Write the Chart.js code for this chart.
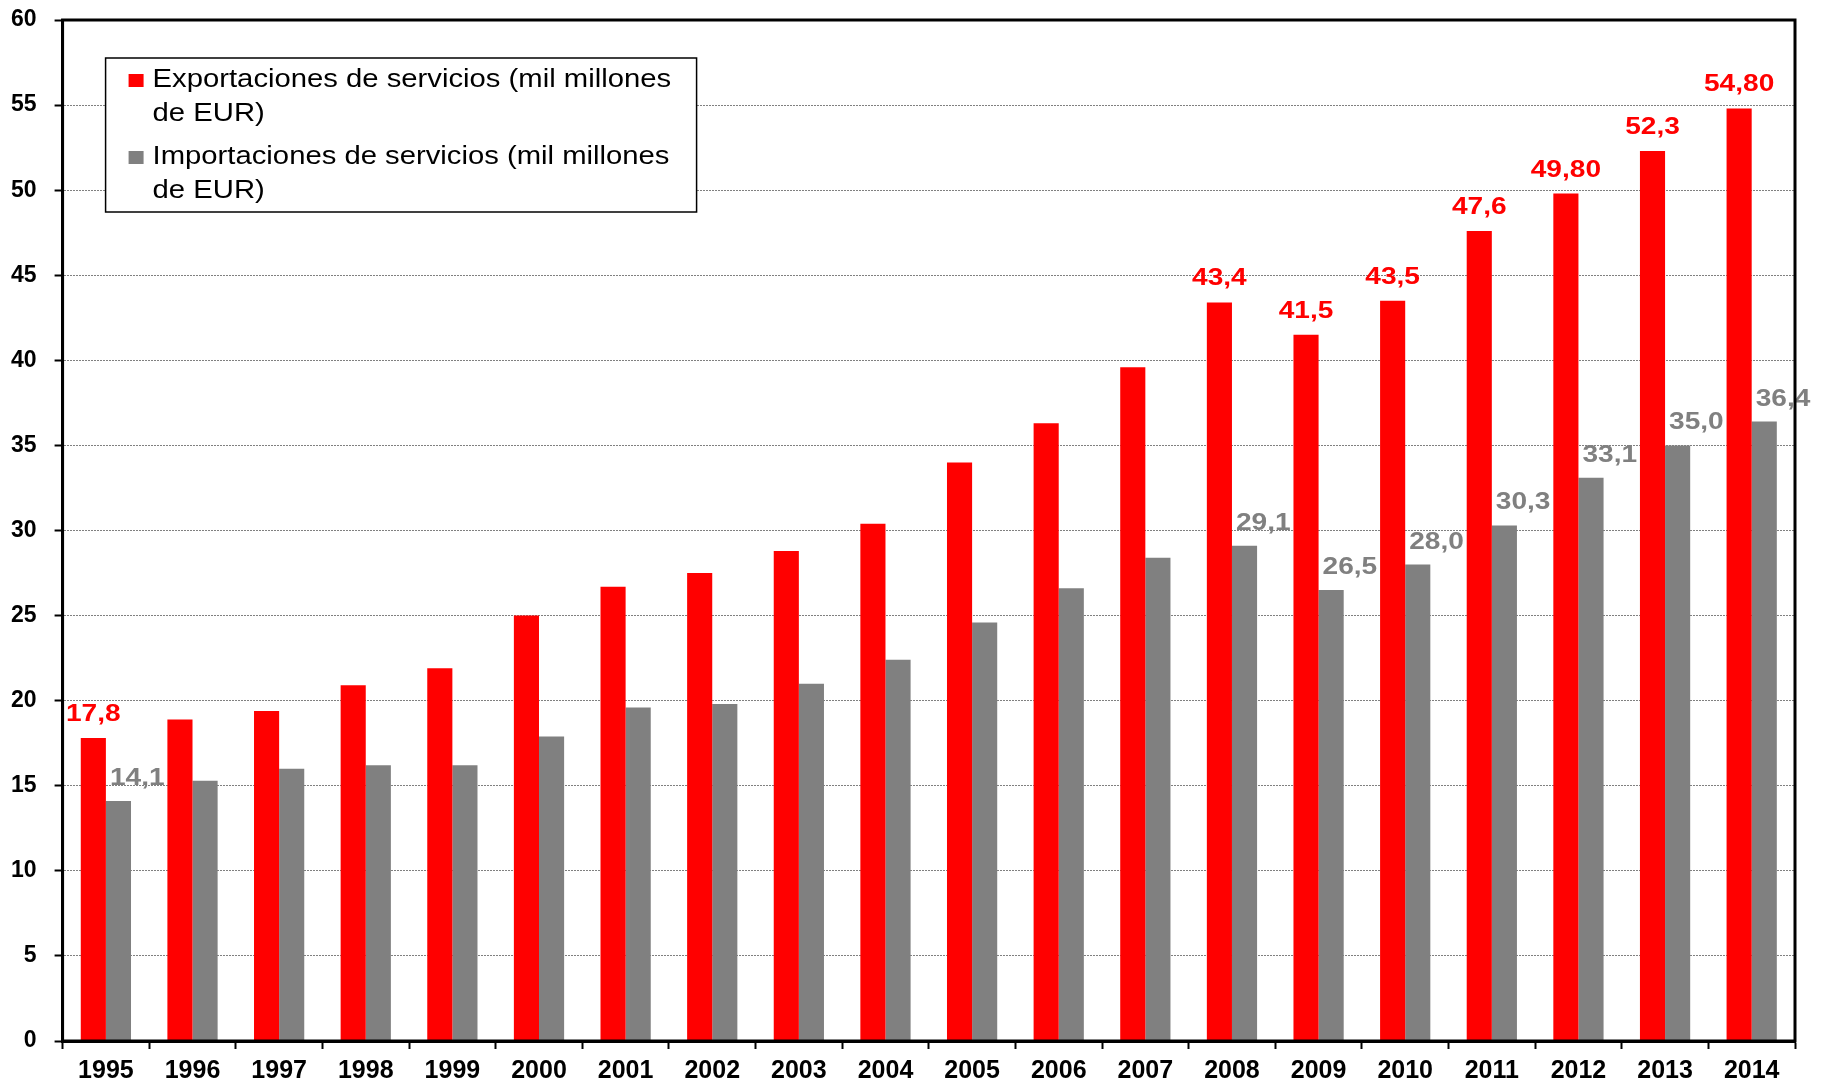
<!DOCTYPE html>
<html>
<head>
<meta charset="utf-8">
<script src="https://cdn.jsdelivr.net/npm/chart.js@4"></script>
<style>
  html, body { margin: 0; padding: 0; background: #fff; }
  canvas { display: block; }
</style>
</head>
<body>
<canvas id="serviciosChart" width="1822" height="1084"></canvas>
<script>
// Datos
const years = ['1995', '1996', '1997', '1998', '1999', '2000', '2001', '2002', '2003', '2004',
               '2005', '2006', '2007', '2008', '2009', '2010', '2011', '2012', '2013', '2014'];

const exportaciones = [17.8, 18.9, 19.4, 20.9, 21.9, 25.0, 26.7, 27.5, 28.8, 30.4,
                       34.0, 36.3, 39.6, 43.4, 41.5, 43.5, 47.6, 49.8, 52.3, 54.8];
const importaciones = [14.1, 15.3, 16.0, 16.2, 16.2, 17.9, 19.6, 19.8, 21.0, 22.4,
                       24.6, 26.6, 28.4, 29.1, 26.5, 28.0, 30.3, 33.1, 35.0, 36.4];

// Etiquetas tal como aparecen (vacias donde no hay)
const etiquetasExp = ['17,8', '', '', '', '', '', '', '', '', '',
                      '', '', '', '43,4', '41,5', '43,5', '47,6', '49,80', '52,3', '54,80'];
const etiquetasImp = ['14,1', '', '', '', '', '', '', '', '', '',
                      '', '', '', '29,1', '26,5', '28,0', '30,3', '33,1', '35,0', '36,4'];

const yTicks = [0, 5, 10, 15, 20, 25, 30, 35, 40, 45, 50, 55, 60];

const nombreExp = 'Exportaciones de servicios (mil millones de EUR)';
const nombreImp = 'Importaciones de servicios (mil millones de EUR)';

const ROJO = '#ff0000';
const GRIS = '#808080';
const FUENTE = '"Liberation Sans", Arial, sans-serif';
const ESTIRADO = 1.17; // el texto del original es algo mas ancho que alto

// texto estirado en horizontal
function textoAncho(ctx, txt, x, y, align) {
    const w = ctx.measureText(txt).width * ESTIRADO;
    let x0 = x;
    if (align === 'center') x0 = x - w / 2;
    else if (align === 'right') x0 = x - w;
    ctx.save();
    ctx.translate(x0, y);
    ctx.scale(ESTIRADO, 1);
    ctx.textAlign = 'left';
    ctx.fillText(txt, 0, 0);
    ctx.restore();
}

// Marco negro alrededor del area del grafico
const marcoPlugin = {
    id: 'marco',
    afterDraw(chart) {
        const { ctx, chartArea: a } = chart;
        ctx.save();
        ctx.strokeStyle = '#000';
        ctx.lineWidth = 3;
        ctx.strokeRect(a.left, a.top, a.right - a.left, a.bottom - a.top);
        ctx.restore();
    }
};

// Etiquetas de valores encima de las barras
const etiquetasPlugin = {
    id: 'etiquetas',
    afterDatasetsDraw(chart) {
        const ctx = chart.ctx;
        ctx.save();
        ctx.font = 'bold 24px ' + FUENTE;
        ctx.textBaseline = 'alphabetic';
        const listas = [etiquetasExp, etiquetasImp];
        chart.data.datasets.forEach((ds, di) => {
            const meta = chart.getDatasetMeta(di);
            meta.data.forEach((bar, i) => {
                const txt = listas[di][i];
                if (!txt) return;
                ctx.fillStyle = ds.backgroundColor;
                if (di === 0) {
                    textoAncho(ctx, txt, bar.x, bar.y - 17, 'center');
                } else {
                    textoAncho(ctx, txt, bar.x - bar.width / 2 + 4, bar.y - 16, 'left');
                }
            });
        });
        ctx.restore();
    }
};

// Leyenda con texto en varias lineas, dentro del area
function partirTexto(ctx, texto, maxAncho) {
    const palabras = texto.split(' ');
    const lineas = [];
    let actual = '';
    palabras.forEach(p => {
        const prueba = actual ? actual + ' ' + p : p;
        if (ctx.measureText(prueba).width * ESTIRADO > maxAncho && actual) {
            lineas.push(actual);
            actual = p;
        } else {
            actual = prueba;
        }
    });
    if (actual) lineas.push(actual);
    return lineas;
}

const leyendaPlugin = {
    id: 'leyendaCaja',
    afterDraw(chart) {
        const { ctx, chartArea: a } = chart;
        const x = a.left + 43;
        const y = a.top + 38;
        const w = 591;
        const h = 154;
        ctx.save();
        ctx.fillStyle = '#fff';
        ctx.fillRect(x, y, w, h);
        ctx.strokeStyle = '#000';
        ctx.lineWidth = 1.5;
        ctx.strokeRect(x, y, w, h);

        ctx.font = '25px ' + FUENTE;
        ctx.textBaseline = 'middle';
        let ty = y + 22;
        chart.data.datasets.forEach(ds => {
            ctx.fillStyle = ds.backgroundColor;
            ctx.fillRect(x + 23, ty - 6, 15, 13);
            ctx.fillStyle = '#000';
            const lineas = partirTexto(ctx, ds.label, 535);
            lineas.forEach((l, k) => {
                textoAncho(ctx, l, x + 47, ty + k * 34, 'left');
            });
            ty += lineas.length * 34 + 9;
        });
        ctx.restore();
    }
};

const ctx = document.getElementById('serviciosChart').getContext('2d');
const chart = new Chart(ctx, {
    type: 'bar',
    data: {
        labels: years,
        datasets: [
            {
                label: nombreExp,
                data: exportaciones,
                backgroundColor: ROJO,
                borderWidth: 0,
                categoryPercentage: 0.58,
                barPercentage: 1.0
            },
            {
                label: nombreImp,
                data: importaciones,
                backgroundColor: GRIS,
                borderWidth: 0,
                categoryPercentage: 0.58,
                barPercentage: 1.0
            }
        ]
    },
    options: {
        responsive: false,
        devicePixelRatio: 1,
        animation: false,
        layout: {
            padding: { left: -7, right: 27, top: 20, bottom: -10 }
        },
        scales: {
            x: {
                grid: {
                    offset: true,
                    drawOnChartArea: false,
                    drawTicks: true,
                    tickLength: 8,
                    tickColor: '#000',
                    tickWidth: 2
                },
                border: { display: true, color: '#000', width: 3 },
                ticks: {
                    color: '#000',
                    padding: 10,
                    font: { family: FUENTE, size: 25, weight: 'bold', lineHeight: 1 }
                }
            },
            y: {
                min: 0,
                max: 60,
                afterBuildTicks(scale) {
                    scale.ticks = yTicks.map(v => ({ value: v }));
                },
                grid: {
                    color: '#808080',
                    lineWidth: 1,
                    tickLength: 8,
                    tickColor: '#000',
                    tickWidth: 2
                },
                border: { display: true, color: '#000', width: 3, dash: [2, 1] },
                ticks: {
                    color: '#000',
                    padding: 18,
                    font: { family: FUENTE, size: 23, weight: 'bold', lineHeight: 0.1 }
                }
            }
        },
        plugins: {
            legend: { display: false },
            tooltip: { enabled: false }
        }
    },
    plugins: [etiquetasPlugin, marcoPlugin, leyendaPlugin]
});
</script>
</body>
</html>
